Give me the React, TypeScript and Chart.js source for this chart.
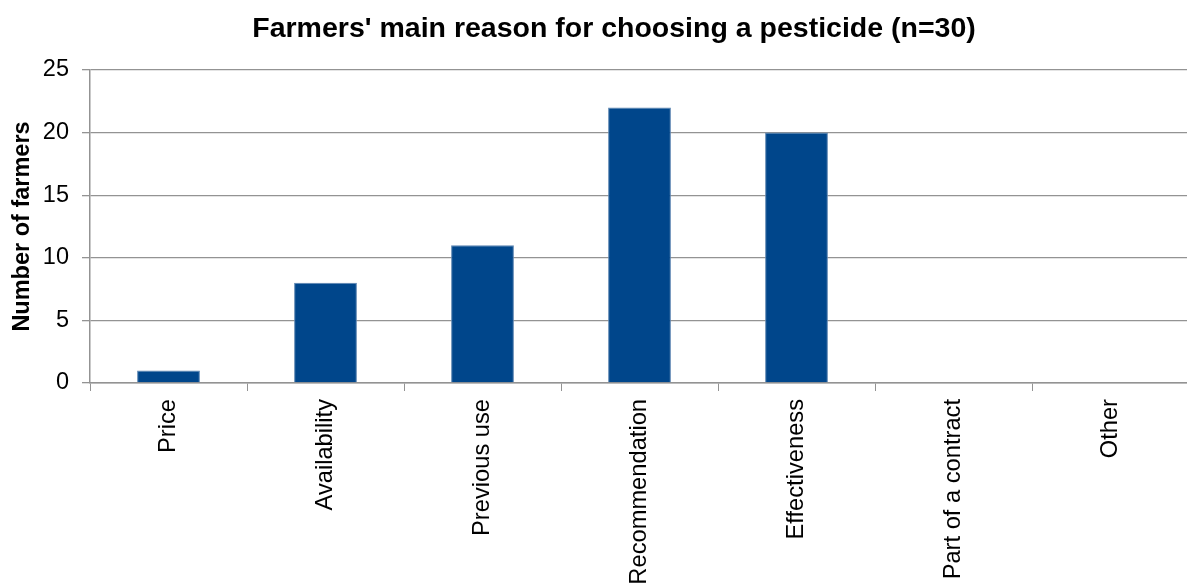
import React, { useEffect, useRef } from "react";
import { Chart, registerables } from "chart.js";

Chart.register(...registerables);

const chartTitle = "Farmers' main reason for choosing a pesticide (n=30)";
const yAxisTitle = "Number of farmers";
const reasons = [
  "Price",
  "Availability",
  "Previous use",
  "Recommendation",
  "Effectiveness",
  "Part of a contract",
  "Other",
];
const farmerCounts = [1, 8, 11, 22, 20, 0, 0];
const yTickValues = [0, 5, 10, 15, 20, 25];

const FONT = '"Liberation Sans", Arial, Helvetica, sans-serif';
const BAR_FILL = "#00468B";
const BAR_EDGE = "#5b84b1";
const GRID = "#939393";

// Chart heading, centred over the plot the way the spreadsheet lays it out
const headingPlugin = {
  id: "heading",
  afterDraw(chart: Chart) {
    const { ctx } = chart;
    ctx.save();
    ctx.font = `bold 28.5px ${FONT}`;
    ctx.fillStyle = "#000";
    ctx.textAlign = "center";
    ctx.textBaseline = "alphabetic";
    ctx.fillText(chartTitle, 614, 37);
    ctx.restore();
  },
};

export default function App() {
  const canvasRef = useRef<HTMLCanvasElement | null>(null);

  useEffect(() => {
    const canvas = canvasRef.current;
    if (!canvas) return;
    const chart = new Chart(canvas, {
      type: "bar",
      data: {
        labels: reasons,
        datasets: [
          {
            label: yAxisTitle,
            data: farmerCounts,
            backgroundColor: BAR_FILL,
            borderColor: BAR_EDGE,
            borderWidth: (c: any) => (c.raw ? 1 : 0),
            borderSkipped: "bottom",
            barPercentage: 0.4,
            categoryPercentage: 1,
          },
        ],
      },
      options: {
        responsive: false,
        animation: false,
        layout: { padding: { top: 70, left: 0, right: 0, bottom: 0 } },
        plugins: {
          legend: { display: false },
          title: { display: false },
          tooltip: { enabled: false },
        },
        scales: {
          x: {
            grid: {
              display: true,
              offset: true,
              drawOnChartArea: false,
              drawTicks: true,
              tickLength: 8,
              color: GRID,
              lineWidth: 1,
            },
            border: { display: true, color: GRID, width: 1.5 },
            ticks: {
              autoSkip: false,
              minRotation: 90,
              maxRotation: 90,
              padding: 8,
              color: "#000",
              font: { family: FONT, size: 23.7 },
            },
            afterFit: (scale: any) => {
              scale.height = 203;
            },
          },
          y: {
            min: yTickValues[0],
            max: yTickValues[yTickValues.length - 1],
            afterBuildTicks: (scale: any) => {
              scale.ticks = yTickValues.map((v) => ({ value: v }));
            },
            grid: {
              color: GRID,
              lineWidth: 1.3,
              drawTicks: true,
              tickLength: 8,
            },
            border: { display: true, color: GRID, width: 1.5 },
            ticks: {
              padding: 13,
              color: "#000",
              font: { family: FONT, size: 23.5 },
            },
            title: {
              display: true,
              text: yAxisTitle,
              color: "#000",
              font: { family: FONT, size: 23.5, weight: "bold" },
              padding: { top: 8, bottom: 0 },
            },
            afterFit: (scale: any) => {
              scale.width = 90;
            },
          },
        },
      },
      plugins: [headingPlugin],
    });
    return () => chart.destroy();
  }, []);

  return (
    <div
      style={{
        position: "fixed",
        top: 0,
        left: 0,
        width: 1187,
        height: 586,
        background: "#fff",
        overflow: "hidden",
      }}
    >
      <canvas ref={canvasRef} width={1189} height={586} style={{ display: "block" }} />
    </div>
  );
}
